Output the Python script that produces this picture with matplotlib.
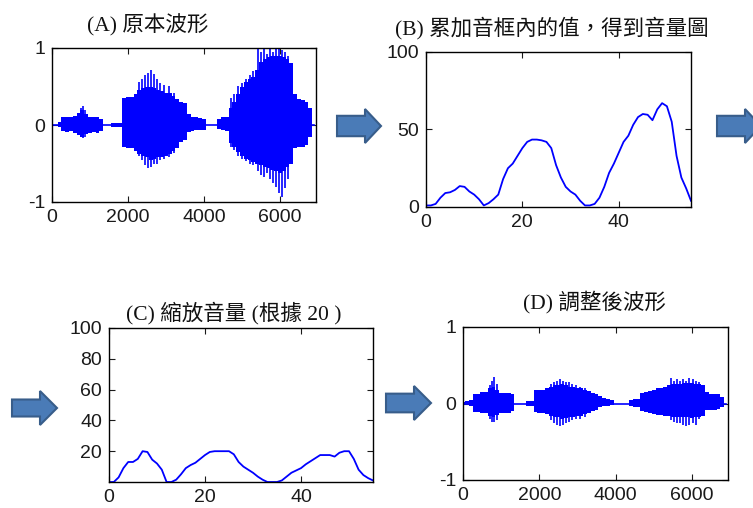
import numpy as np
import matplotlib.pyplot as plt
from matplotlib.patches import Polygon

plt.rcParams["axes.unicode_minus"] = False

# === Data ===
# (A) original waveform: body envelope every 100 samples, plus pitch spikes
wave_x = np.arange(0, 7000, 100)
a_top = [0, 0, 0.04, 0.10, 0.10, 0.10, 0.12, 0.16, 0.20, 0.14,
         0.10, 0.10, 0.10, 0.08, 0, 0, 0.03, 0.03, 0.03, 0.35,
         0.36, 0.36, 0.40, 0.45, 0.48, 0.50, 0.50, 0.48, 0.46, 0.44,
         0.42, 0.42, 0.38, 0.34, 0.30, 0.28, 0.14, 0.11, 0.10, 0.09,
         0.08, 0, 0, 0, 0.08, 0.10, 0.11, 0.22, 0.30, 0.40,
         0.50, 0.56, 0.60, 0.62, 0.72, 0.82, 0.86, 0.88, 0.90, 0.90,
         0.90, 0.88, 0.86, 0.80, 0.40, 0.34, 0.32, 0.30, 0.22, 0]
a_bot = [0, 0, -0.03, -0.08, -0.09, -0.08, -0.10, -0.13, -0.15, -0.12,
         -0.10, -0.09, -0.10, -0.08, 0, 0, -0.03, -0.03, -0.03, -0.28,
         -0.30, -0.30, -0.34, -0.38, -0.40, -0.42, -0.45, -0.44, -0.42, -0.42,
         -0.40, -0.38, -0.34, -0.30, -0.22, -0.20, -0.09, -0.08, -0.07, -0.07,
         -0.06, 0, 0, 0, -0.05, -0.06, -0.08, -0.24, -0.28, -0.35,
         -0.40, -0.44, -0.46, -0.48, -0.50, -0.52, -0.54, -0.56, -0.58, -0.60,
         -0.62, -0.60, -0.55, -0.50, -0.30, -0.28, -0.28, -0.26, -0.15, 0]
a_spike_x = [760, 820, 880, 2280, 2360, 2440, 2520, 2600, 2680, 2760, 2840,
             2960, 3080, 3200, 4720, 4800, 4900, 5000, 5100, 5200, 5300,
             5420, 5500, 5580, 5660, 5740, 5820, 5900, 5980, 6060, 6140, 6220]
a_spike_top = [0.22, 0.25, 0.20, 0.56, 0.60, 0.65, 0.68, 0.71, 0.66, 0.60, 0.55,
               0.52, 0.50, 0.42, 0.35, 0.40, 0.50, 0.55, 0.60, 0.65, 0.70,
               1.00, 0.95, 1.00, 0.92, 1.00, 0.95, 1.00, 1.00, 0.98, 0.95, 0.90]
a_spike_bot = [-0.16, -0.17, -0.15, -0.40, -0.46, -0.52, -0.56, -0.55, -0.50, -0.50, -0.46,
               -0.44, -0.42, -0.36, -0.28, -0.32, -0.40, -0.44, -0.47, -0.50, -0.52,
               -0.60, -0.65, -0.68, -0.62, -0.70, -0.75, -0.80, -0.88, -0.93, -0.82, -0.70]

# (B) volume per frame
frames = np.arange(0, 56)
volume = [1, 1, 2, 6, 9, 9.5, 11, 13.5, 13, 10,
          8, 5, 1, 2.5, 5, 8, 18, 25, 28, 33,
          38, 42, 43.5, 43.5, 43, 42, 38, 27, 19, 13,
          10, 8, 4, 1, 1, 2, 6, 13, 22, 28,
          35, 42, 46, 53, 58, 60, 59.5, 56, 63, 67,
          65, 55, 33, 19, 12, 4]

# (C) scaled volume (target 20)
volume_scaled = [0, 0, 3, 9, 13, 13, 15, 20, 19.5, 14.5,
                 12, 8, 0, 0, 1.5, 5, 9, 11, 12.5, 15,
                 17.5, 19.5, 20, 20, 20, 20, 18, 13, 10, 8,
                 6, 3.5, 1.5, 0, 0, 0, 1, 3.5, 6, 7.5,
                 9, 11.5, 13.5, 15.5, 17.5, 17.5, 17.5, 16.5, 19, 20,
                 20, 15, 8, 4.5, 2.5, 1]

# (D) adjusted waveform
d_top = [0.02, 0.03, 0.05, 0.13, 0.13, 0.15, 0.15, 0.20, 0.22, 0.18,
         0.14, 0.14, 0.14, 0.13, 0, 0, 0, 0.03, 0.03, 0.17,
         0.17, 0.18, 0.20, 0.22, 0.24, 0.24, 0.25, 0.24, 0.22, 0.21,
         0.20, 0.20, 0.18, 0.16, 0.14, 0.13, 0.10, 0.07, 0.06, 0.05,
         0, 0, 0, 0, 0.05, 0.06, 0.06, 0.14, 0.15, 0.16,
         0.18, 0.20, 0.20, 0.22, 0.24, 0.25, 0.26, 0.26, 0.27, 0.27,
         0.27, 0.26, 0.25, 0.24, 0.15, 0.13, 0.13, 0.12, 0.08, 0]
d_bot = [-0.02, -0.02, -0.03, -0.11, -0.11, -0.12, -0.12, -0.16, -0.18, -0.15,
         -0.12, -0.12, -0.12, -0.10, 0, 0, 0, -0.03, -0.03, -0.11,
         -0.12, -0.13, -0.14, -0.16, -0.17, -0.18, -0.20, -0.19, -0.18, -0.17,
         -0.16, -0.16, -0.14, -0.12, -0.10, -0.09, -0.05, -0.03, -0.03, -0.02,
         0, 0, 0, 0, -0.03, -0.04, -0.05, -0.10, -0.11, -0.12,
         -0.14, -0.15, -0.15, -0.16, -0.16, -0.17, -0.17, -0.18, -0.18, -0.18,
         -0.19, -0.18, -0.17, -0.16, -0.09, -0.08, -0.08, -0.07, -0.05, 0]
d_spike_x = [700, 760, 820, 880, 2300, 2380, 2460, 2540, 2620, 2700, 2780, 2860,
             2960, 3080, 3200, 5460, 5540, 5620, 5700, 5780, 5860, 5940, 6020, 6100, 6180]
d_spike_top = [0.24, 0.30, 0.34, 0.26, 0.26, 0.28, 0.30, 0.32, 0.30, 0.28, 0.28, 0.26,
               0.24, 0.22, 0.20, 0.33, 0.30, 0.32, 0.30, 0.32, 0.30, 0.33, 0.32, 0.30, 0.28]
d_spike_bot = [-0.20, -0.24, -0.24, -0.22, -0.22, -0.25, -0.28, -0.30, -0.28, -0.25, -0.24, -0.22,
               -0.20, -0.20, -0.18, -0.22, -0.24, -0.26, -0.26, -0.28, -0.30, -0.28, -0.26, -0.28, -0.20]

titles = ["(A) 原本波形", "(B) 累加音框內的值，得到音量圖",
          "(C) 縮放音量 (根據 20 )", "(D) 調整後波形"]

# === Figure ===
W, H = 753, 508
fig = plt.figure(figsize=(W / 100, H / 100), dpi=100)
BLUE = "#0000ff"
TICK_FONT = "Liberation Sans"
TITLE_FONT = ["Liberation Serif", "Noto Sans CJK TC"]


def px_axes(left, top, right, bottom):
    # axes box given in pixel coords of the picture
    return fig.add_axes([left / W, 1 - bottom / H, (right - left) / W, (bottom - top) / H])


def style(ax):
    ax.tick_params(direction="in", top=True, right=True, length=4, width=0.8,
                   labelsize=14, colors="#1a1a1a", pad=5)
    for lab in ax.get_xticklabels() + ax.get_yticklabels():
        lab.set_fontfamily(TICK_FONT)
    for s in ax.spines.values():
        s.set_linewidth(1.0)


def waveform(ax, top, bot, sx, stop, sbot):
    ax.fill_between(wave_x, bot, top, step="mid", color=BLUE, lw=0)
    ax.vlines(sx, sbot, stop, color=BLUE, lw=1.2)
    ax.plot([0, wave_x[-1]], [0, 0], color=BLUE, lw=1.2)
    ax.set_xlim(0, 6950)
    ax.set_ylim(-1, 1)
    ax.set_xticks([0, 2000, 4000, 6000])
    ax.set_yticks([-1, 0, 1])


axA = px_axes(52, 48, 316, 202)
waveform(axA, a_top, a_bot, a_spike_x, a_spike_top, a_spike_bot)
style(axA)

axB = px_axes(426, 52, 691, 207)
axB.plot(frames, volume, color=BLUE, lw=1.3)
axB.set_xlim(0, 55)
axB.set_ylim(0, 100)
axB.set_xticks([0, 20, 40])
axB.set_yticks([0, 50, 100])
style(axB)

axC = px_axes(109, 328, 373, 482)
axC.plot(frames, volume_scaled, color=BLUE, lw=1.3)
axC.set_xlim(0, 55)
axC.set_ylim(0, 100)
axC.set_xticks([0, 20, 40])
axC.set_yticks([20, 40, 60, 80, 100])
style(axC)

axD = px_axes(463, 327, 728, 480)
waveform(axD, d_top, d_bot, d_spike_x, d_spike_top, d_spike_bot)
style(axD)

# titles
for (cx, cy), t in zip([(148, 25), (552, 28), (234, 313), (594, 302)], titles):
    fig.text(cx / W, 1 - cy / H, t, ha="center", va="center", fontsize=15.5,
             family=TITLE_FONT, color="#111111")


# block arrows between the panels
def block_arrow(x0, yc, length, height, shaft=0.5, head=17):
    xs = [x0, x0 + length - head, x0 + length - head, x0 + length,
          x0 + length - head, x0 + length - head, x0]
    ys = [yc - height * shaft / 2, yc - height * shaft / 2, yc - height / 2, yc,
          yc + height / 2, yc + height * shaft / 2, yc + height * shaft / 2]
    pts = [(x / W, 1 - y / H) for x, y in zip(xs, ys)]
    fig.patches.append(Polygon(pts, closed=True, transform=fig.transFigure,
                               facecolor="#4a7bb7", edgecolor="#385d8a", lw=1.5))


block_arrow(337, 126, 44, 34, shaft=0.6, head=16)
block_arrow(717, 126, 44, 34, shaft=0.6, head=16)
block_arrow(12, 408, 45, 34, shaft=0.5, head=17)
block_arrow(386, 403, 45, 34, shaft=0.55, head=17)

fig.savefig("out.png", dpi=100)
